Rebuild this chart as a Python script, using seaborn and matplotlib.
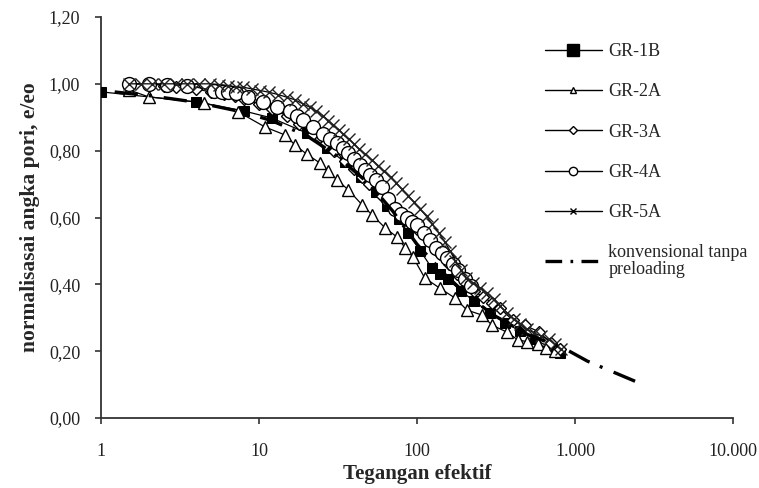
import numpy as np
import pandas as pd
import matplotlib
matplotlib.use("Agg")
import matplotlib.pyplot as plt
from matplotlib.lines import Line2D
from matplotlib.ticker import FixedLocator, NullLocator, FuncFormatter
import seaborn as sns

# data (x: tegangan efektif, y: e/eo)
gr1b_x = [1, 4, 8, 12, 20, 27, 35, 44, 55, 65, 77, 88, 105, 124, 140, 157, 190, 230, 290, 360, 450, 560, 700, 800]
gr1b_y = [0.976, 0.946, 0.919, 0.898, 0.853, 0.808, 0.765, 0.72, 0.675, 0.635, 0.595, 0.554, 0.50, 0.449,
          0.43, 0.415, 0.38, 0.35, 0.314, 0.285, 0.26, 0.235, 0.21, 0.195]

gr2a_x = [1.5, 2.0, 4.5, 7.4, 10.9, 14.6, 16.9, 20, 24.3, 27.5, 31.1, 36.7, 44.9, 51.9, 62.8, 74.5,
          84, 94.2, 112, 139, 174, 207, 258, 298, 371, 434, 500, 580, 660, 750]
gr2a_y = [0.982, 0.961, 0.943, 0.916, 0.871, 0.847, 0.817, 0.79, 0.763, 0.738, 0.713, 0.683, 0.638, 0.608,
          0.569, 0.542, 0.51, 0.482, 0.419, 0.389, 0.359, 0.323, 0.308, 0.278, 0.257, 0.234, 0.228,
          0.22, 0.21, 0.2]

gr3a_x = [1.5, 2, 2.5, 3, 4, 5, 6, 7, 8, 10, 12, 15, 18, 22, 26, 30, 35, 40, 45, 50, 60, 70, 80, 90,
          100, 120, 140, 160, 180, 200, 230, 262, 300, 334, 403, 480, 595, 700, 800]
gr3a_y = [1.0, 1.0, 0.995, 0.99, 0.985, 0.975, 0.97, 0.965, 0.955, 0.94, 0.925, 0.905, 0.88, 0.85, 0.82,
          0.80, 0.77, 0.745, 0.72, 0.70, 0.665, 0.635, 0.61, 0.585, 0.565, 0.53, 0.49, 0.46, 0.43, 0.41,
          0.38, 0.362, 0.345, 0.329, 0.293, 0.278, 0.257, 0.225, 0.205]

gr4a_x = [1.5, 2.0, 2.6, 3.5, 5.2, 5.8, 6.4, 7.2, 8.5, 10.6, 13, 15.7, 17.5, 19, 22, 25.4, 28, 31, 34,
          36.7, 40, 43.5, 47, 50.5, 55, 60, 66, 72.6, 79, 86, 93, 100, 110, 121, 132, 143, 155, 168,
          181, 200, 220]
gr4a_y = [1.0, 1.0, 0.997, 0.995, 0.98, 0.977, 0.975, 0.972, 0.96, 0.945, 0.932, 0.92, 0.905, 0.892,
          0.87, 0.85, 0.835, 0.822, 0.808, 0.793, 0.775, 0.757, 0.742, 0.727, 0.712, 0.69, 0.655, 0.625,
          0.61, 0.599, 0.588, 0.578, 0.555, 0.533, 0.51, 0.495, 0.479, 0.46, 0.443, 0.415, 0.395]

gr5a_x = [1.5, 1.8, 2.1, 2.5, 3.0, 3.5, 4.2, 4.9, 5.6, 6.4, 7.2, 7.9, 9, 10.2, 11.5, 13.2, 15, 16.9, 19,
          21, 23, 25.4, 27.5, 29.4, 32, 34, 37, 40, 43, 47, 52, 57, 62, 68, 74, 80, 88, 96, 105, 115,
          125, 137, 150, 162, 175, 190, 205, 225, 250, 276, 305, 335, 370, 410, 450, 500, 550, 610,
          680, 750, 820]
gr5a_y = [1.0, 1.0, 1.0, 1.0, 1.0, 1.0, 1.0, 1.0, 0.998, 0.995, 0.99, 0.99, 0.985, 0.98, 0.975, 0.968,
          0.96, 0.952, 0.94, 0.93, 0.918, 0.905, 0.89, 0.878, 0.862, 0.85, 0.835, 0.82, 0.805, 0.79,
          0.772, 0.755, 0.738, 0.72, 0.703, 0.685, 0.665, 0.645, 0.625, 0.603, 0.58, 0.555, 0.527,
          0.5, 0.47, 0.443, 0.42, 0.405, 0.39, 0.375, 0.355, 0.335, 0.315, 0.295, 0.28, 0.265, 0.255,
          0.245, 0.235, 0.22, 0.205]

konv_x = [1, 2, 4, 8, 12, 20, 30, 50, 70, 100, 150, 200, 300, 500, 865, 1200, 2400]
konv_y = [0.98, 0.965, 0.945, 0.915, 0.89, 0.845, 0.79, 0.70, 0.62, 0.52, 0.43, 0.375, 0.31, 0.25, 0.207,
          0.17, 0.11]

y_ticks = [0.0, 0.2, 0.4, 0.6, 0.8, 1.0, 1.2]
x_ticks = [1, 10, 100, 1000, 10000]
x_tick_labels = ["1", "10", "100", "1.000", "10.000"]

sns.set_style("ticks")
plt.rcParams["font.family"] = ["Liberation Serif", "DejaVu Serif"]

fig = plt.figure(figsize=(7.59, 4.88), dpi=100)
ax = fig.add_axes([101 / 759, 1 - 418 / 488, (733 - 101) / 759, (418 - 17) / 488])
ax.set_xscale("log")
ax.set_xlim(1, 10000)
ax.set_ylim(0, 1.2)

lw = 0.9
sns.lineplot(x=gr1b_x, y=gr1b_y, ax=ax, color="black", lw=lw, marker="s", markersize=7,
             markerfacecolor="black", markeredgecolor="black", zorder=3)
sns.lineplot(x=gr2a_x, y=gr2a_y, ax=ax, color="black", lw=lw, marker="^", markersize=9,
             markerfacecolor="white", markeredgecolor="black", markeredgewidth=1, zorder=3)
sns.lineplot(x=gr3a_x, y=gr3a_y, ax=ax, color="black", lw=lw, marker="D", markersize=6,
             markerfacecolor="white", markeredgecolor="black", markeredgewidth=1, zorder=3)
sns.lineplot(x=gr4a_x, y=gr4a_y, ax=ax, color="black", lw=lw, marker="o", markersize=10,
             markerfacecolor="white", markeredgecolor="black", markeredgewidth=1, zorder=3)
sns.lineplot(x=gr5a_x, y=gr5a_y, ax=ax, color="black", lw=lw, marker="x", markersize=9,
             markeredgecolor="#222222", markeredgewidth=1, zorder=4)

# dash-dot phase chosen so the line finishes on a full dash, as in the reference
konv_lw = 2.4
pattern = [7, 3.3, 0.9, 3.6]
ax.set_xlim(1, 10000)
ax.set_ylim(0, 1.2)
pts = ax.transData.transform(np.column_stack([konv_x, konv_y]))
path_len = np.sum(np.hypot(*np.diff(pts, axis=0).T)) * 72 / fig.dpi / konv_lw
offset = (pattern[0] - path_len) % sum(pattern)
sns.lineplot(x=konv_x, y=konv_y, ax=ax, color="black", lw=konv_lw,
             linestyle=(offset, pattern), zorder=5)

ax.set_xlim(1, 10000)
ax.set_ylim(0, 1.2)
ax.xaxis.set_major_locator(FixedLocator(x_ticks))
ax.xaxis.set_minor_locator(NullLocator())
ax.set_xticklabels(x_tick_labels)
ax.set_yticks(y_ticks)
ax.yaxis.set_major_formatter(FuncFormatter(lambda v, p: f"{v:.2f}".replace(".", ",")))

for s in ["top", "right"]:
    ax.spines[s].set_visible(False)
for s in ["left", "bottom"]:
    ax.spines[s].set_color("#333333")
    ax.spines[s].set_linewidth(1.3)
ax.tick_params(axis="both", direction="out", length=4, width=1.2, color="#333333",
               labelsize=13, labelcolor="#222222")
ax.tick_params(axis="y", pad=11)
ax.tick_params(axis="x", pad=14)

ax.set_xlabel("Tegangan efektif", fontsize=15, fontweight="bold", labelpad=3)
ax.set_ylabel("normalisasai angka pori, e/eo", fontsize=15.5, fontweight="bold", labelpad=6)

handles = [
    Line2D([], [], color="black", lw=1, marker="s", ms=8, mfc="black", mec="black"),
    Line2D([], [], color="black", lw=1, marker="^", ms=5, mfc="white", mec="black"),
    Line2D([], [], color="black", lw=1, marker="D", ms=4, mfc="white", mec="black"),
    Line2D([], [], color="black", lw=1, marker="o", ms=6, mfc="white", mec="black"),
    Line2D([], [], color="black", lw=1, marker="x", ms=5, mec="black"),
    Line2D([], [], color="black", lw=2.4, linestyle=(0, (5, 2.5, 0.8, 2.5))),
]
labels = ["GR-1B", "GR-2A", "GR-3A", "GR-4A", "GR-5A", "konvensional tanpa\npreloading"]
leg = fig.legend(handles, labels, loc="upper left", bbox_to_anchor=(536 / 759, 1 - 34 / 488),
                 frameon=False, borderpad=0, handlelength=3.15, handletextpad=0.35,
                 labelspacing=1.29, fontsize=13)
last = leg.get_texts()[-1]
last.set_fontsize(13)
last.set_linespacing(0.95)

fig.savefig("out.png", dpi=100)
